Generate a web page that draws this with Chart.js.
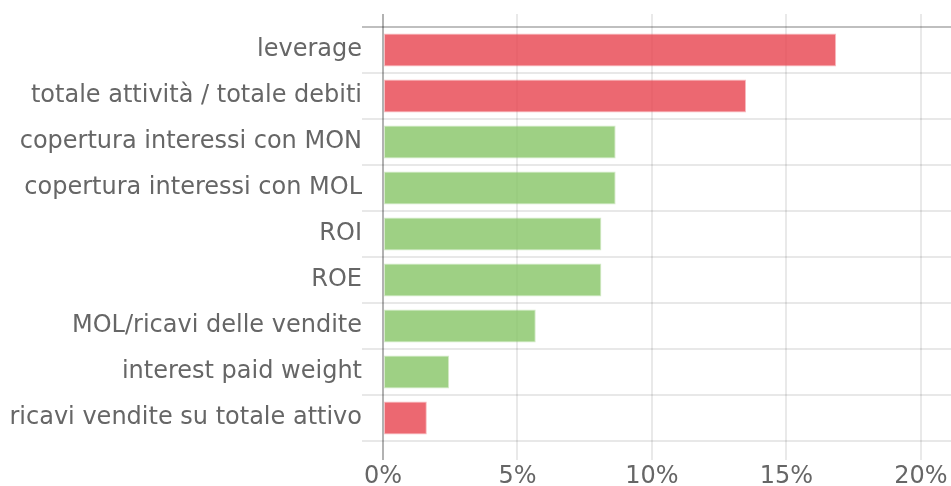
<!DOCTYPE html>
<html>
<head>
<meta charset="utf-8">
<script src="https://cdn.jsdelivr.net/npm/chart.js@4"></script>
<style>
  html, body { margin: 0; padding: 0; background: #fff; }
  #wrap { width: 951px; height: 486px; position: relative; }
</style>
</head>
<body>
<div id="wrap"><canvas id="c"></canvas></div>
<script>
const categories = [
  'leverage',
  'totale attività / totale debiti',
  'copertura interessi con MON',
  'copertura interessi con MOL',
  'ROI',
  'ROE',
  'MOL/ricavi delle vendite',
  'interest paid weight',
  'ricavi vendite su totale attivo'
];
const values = [16.85, 13.5, 8.65, 8.65, 8.12, 8.12, 5.68, 2.46, 1.63];
const impact = ['neg', 'neg', 'pos', 'pos', 'pos', 'pos', 'pos', 'pos', 'neg'];
const xTicks = [0, 5, 10, 15, 20];
const xMax = 21.12;

const fill = { neg: 'rgba(231,66,78,0.8)', pos: 'rgba(134,196,101,0.8)' };
const edge = { neg: 'rgba(231,66,78,0.35)', pos: 'rgba(134,196,101,0.35)' };

const keepTicks = (scale) => {
  scale.ticks = xTicks.map(v => ({ value: v }));
};

new Chart(document.getElementById('c'), {
  type: 'bar',
  data: {
    labels: categories,
    datasets: [{
      data: values,
      backgroundColor: impact.map(k => fill[k]),
      borderColor: impact.map(k => edge[k]),
      borderWidth: 1,
      borderSkipped: false,
      categoryPercentage: 1,
      barPercentage: 0.72
    }]
  },
  options: {
    indexAxis: 'y',
    responsive: true,
    maintainAspectRatio: false,
    animation: false,
    layout: { padding: 0 },
    plugins: { legend: { display: false }, tooltip: { enabled: false } },
    scales: {
      x: {
        type: 'linear',
        position: 'bottom',
        min: 0,
        max: xMax,
        afterBuildTicks: keepTicks,
        afterFit: (s) => { s.height = 45; },
        border: { display: false },
        grid: {
          lineWidth: 2,
          tickLength: 19,
          color: (ctx) => ctx.tick && ctx.tick.value === 0 ? 'rgba(0,0,0,0.3)' : 'rgba(0,0,0,0.085)'
        },
        ticks: {
          padding: 2,
          color: '#666',
          font: { family: 'DejaVu Sans', size: 24 },
          callback: (v) => v + '%'
        }
      },
      x2: {
        type: 'linear',
        position: 'top',
        min: 0,
        max: xMax,
        afterBuildTicks: keepTicks,
        afterFit: (s) => { s.height = 27; },
        border: { display: false },
        grid: {
          drawOnChartArea: false,
          lineWidth: 2,
          tickLength: 13,
          color: (ctx) => ctx.tick && ctx.tick.value === 0 ? 'rgba(0,0,0,0.3)' : 'rgba(0,0,0,0.085)'
        },
        ticks: { display: false }
      },
      y: {
        type: 'category',
        position: 'left',
        afterFit: (s) => { s.width = 383; },
        border: { display: false },
        grid: {
          offset: true,
          lineWidth: 2,
          tickLength: 21,
          color: (ctx) => ctx.index === 0 ? 'rgba(0,0,0,0.25)' : 'rgba(0,0,0,0.09)'
        },
        ticks: {
          padding: 0,
          color: '#666',
          font: { family: 'DejaVu Sans', size: 24 }
        }
      }
    }
  }
});
</script>
</body>
</html>
